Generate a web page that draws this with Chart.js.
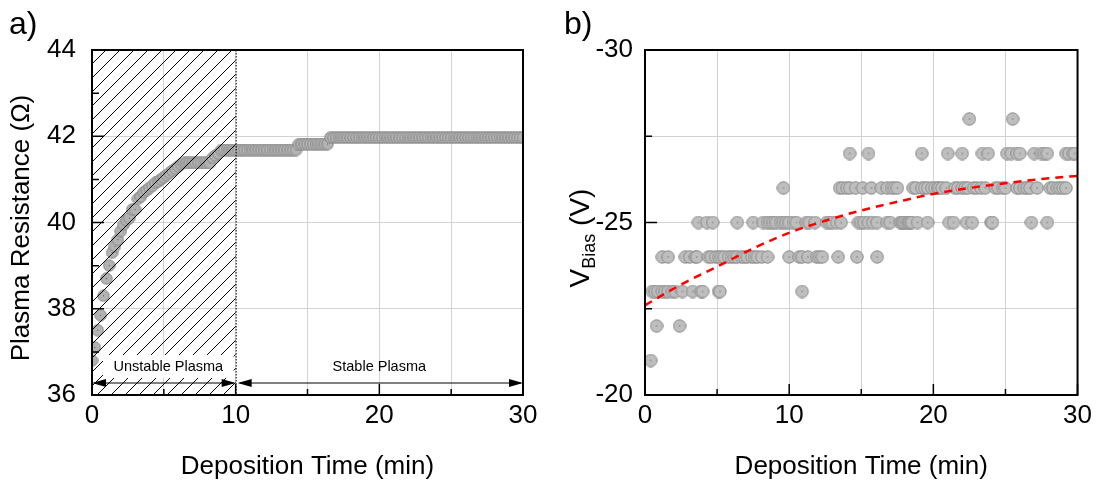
<!DOCTYPE html>
<html>
<head>
<meta charset="utf-8">
<script src="https://cdn.jsdelivr.net/npm/chart.js@4.4.1/dist/chart.umd.min.js"></script>
<style>
    html, body { margin: 0; padding: 0; background: #fff; }
    #wrap { position: relative; width: 1097px; height: 481px; }
    canvas { position: absolute; top: 0; }
    #chart-a { left: 0; }
    #chart-b { left: 548px; }
</style>
</head>
<body>
<div id="wrap">
    <canvas id="chart-a" width="548" height="481"></canvas>
    <canvas id="chart-b" width="549" height="481"></canvas>
</div>
<script>
// a) plasma resistance, one reading every 0.2 min
const resTime = [
    0, 0.2, 0.4, 0.6, 0.8, 1, 1.2, 1.4, 1.6, 1.8,
    2, 2.2, 2.4, 2.6, 2.8, 3, 3.2, 3.4, 3.6, 3.8,
    4, 4.2, 4.4, 4.6, 4.8, 5, 5.2, 5.4, 5.6, 5.8,
    6, 6.2, 6.4, 6.6, 6.8, 7, 7.2, 7.4, 7.6, 7.8,
    8, 8.2, 8.4, 8.6, 8.8, 9, 9.2, 9.4, 9.6, 9.8,
    10, 10.2, 10.4, 10.6, 10.8, 11, 11.2, 11.4, 11.6, 11.8,
    12, 12.2, 12.4, 12.6, 12.8, 13, 13.2, 13.4, 13.6, 13.8,
    14, 14.2, 14.4, 14.6, 14.8, 15, 15.2, 15.4, 15.6, 15.8,
    16, 16.2, 16.4, 16.6, 16.8, 17, 17.2, 17.4, 17.6, 17.8,
    18, 18.2, 18.4, 18.6, 18.8, 19, 19.2, 19.4, 19.6, 19.8,
    20, 20.2, 20.4, 20.6, 20.8, 21, 21.2, 21.4, 21.6, 21.8,
    22, 22.2, 22.4, 22.6, 22.8, 23, 23.2, 23.4, 23.6, 23.8,
    24, 24.2, 24.4, 24.6, 24.8, 25, 25.2, 25.4, 25.6, 25.8,
    26, 26.2, 26.4, 26.6, 26.8, 27, 27.2, 27.4, 27.6, 27.8,
    28, 28.2, 28.4, 28.6, 28.8, 29, 29.2, 29.4, 29.6, 29.8,
    30
];
const resValue = [
    36.8, 37.1, 37.5, 37.85, 38.3, 38.7, 39.0, 39.3, 39.45, 39.6,
    39.8, 39.95, 40.05, 40.1, 40.3, 40.3, 40.55, 40.6, 40.7, 40.75,
    40.8, 40.85, 40.92, 40.95, 41.0, 41.05, 41.1, 41.15, 41.2, 41.25,
    41.3, 41.35, 41.38, 41.38, 41.38, 41.38, 41.38, 41.38, 41.38, 41.38,
    41.38, 41.38, 41.5, 41.55, 41.6, 41.68, 41.68, 41.68, 41.68, 41.68,
    41.68, 41.68, 41.68, 41.68, 41.68, 41.68, 41.68, 41.68, 41.68, 41.68,
    41.68, 41.68, 41.68, 41.68, 41.68, 41.68, 41.68, 41.68, 41.68, 41.68,
    41.68, 41.68, 41.82, 41.82, 41.82, 41.82, 41.82, 41.82, 41.82, 41.82,
    41.82, 41.82, 41.82, 41.97, 41.97, 41.97, 41.97, 41.97, 41.97, 41.97,
    41.97, 41.97, 41.97, 41.97, 41.97, 41.97, 41.97, 41.97, 41.97, 41.97,
    41.97, 41.97, 41.97, 41.97, 41.97, 41.97, 41.97, 41.97, 41.97, 41.97,
    41.97, 41.97, 41.97, 41.97, 41.97, 41.97, 41.97, 41.97, 41.97, 41.97,
    41.97, 41.97, 41.97, 41.97, 41.97, 41.97, 41.97, 41.97, 41.97, 41.97,
    41.97, 41.97, 41.97, 41.97, 41.97, 41.97, 41.97, 41.97, 41.97, 41.97,
    41.97, 41.97, 41.97, 41.97, 41.97, 41.97, 41.97, 41.97, 41.97, 41.97,
    41.97
];
const unstableEnd = 10;   // min, end of hatched region

// b) bias voltage, readings grouped by level
const biasLevels = [-21, -22, -23, -24, -25, -26, -27, -28];
const biasTimes = [
    [0.4],
    [0.8, 2.4],
    [0.5, 0.7, 0.9, 1.2, 1.4, 1.6, 1.9, 2.1, 2.6, 3.3, 3.9, 4.0, 5.1, 5.2, 10.9],
    [1.2, 1.6, 2.8, 3.1, 3.5, 3.6, 4.4, 4.6, 4.9, 5.1, 5.3, 5.5, 5.8, 6.0, 6.2, 6.4, 6.7,
     6.9, 7.1, 7.4, 7.6, 7.8, 8.1, 8.5, 10.0, 10.7, 10.9, 11.3, 11.9, 12.1, 12.3, 13.4, 14.7, 16.1],
    [3.7, 4.3, 4.7, 6.4, 7.5, 8.2, 8.5, 8.7, 8.9, 9.1, 9.4, 9.6, 9.8, 10.0, 10.3, 10.5, 11.2,
     11.4, 11.8, 12.6, 12.8, 13.0, 13.3, 13.6, 14.8, 15.0, 15.2, 15.5, 15.8, 16.1, 16.8, 17.0,
     17.7, 17.8, 17.9, 18.0, 18.2, 18.3, 18.4, 18.5, 18.9, 19.6, 21.1, 21.4, 22.3, 22.7, 24.0,
     24.1, 26.8, 27.9],
    [9.6, 13.5, 13.7, 14.0, 14.2, 14.6, 15.1, 15.7, 16.4, 16.8, 17.1, 17.3, 17.5, 18.6, 18.8,
     19.2, 19.4, 19.6, 19.9, 20.1, 20.3, 20.4, 20.6, 20.9, 21.5, 21.7, 22.0, 22.2, 22.4, 22.8,
     23.0, 23.3, 23.6, 24.3, 24.5, 24.8, 25.0, 25.8, 26.0, 26.3, 26.5, 26.7, 27.2, 28.1, 28.3,
     28.6, 28.8, 29.0, 29.2],
    [14.2, 15.5, 19.2, 21.0, 22.0, 23.4, 23.8, 25.1, 25.4, 25.8, 26.0, 27.0, 27.5, 27.7, 27.9,
     29.2, 29.4, 29.7, 29.8],
    [22.5, 25.5]
];
// fitted trend (red dashed)
const fitTime = [0, 2.5, 5, 7.5, 10, 12.5, 15, 17.5, 20, 22.5, 25, 27.5, 30];
const fitVolt = [-22.6, -23.2, -23.72, -24.25, -24.7, -25.05, -25.35, -25.6, -25.83, -26.0, -26.14, -26.26, -26.35];

const xTitle = 'Deposition Time (min)';
const yTitleA = 'Plasma Resistance (Ω)';

const FONT = '"Liberation Sans", Arial, sans-serif';
Chart.defaults.font.family = FONT;
Chart.defaults.color = '#000';
Chart.defaults.animation = false;


function makeDot(size, fill, stroke) {
    const c = document.createElement('canvas');
    c.width = c.height = size;
    const g = c.getContext('2d');
    g.beginPath();
    g.arc(size / 2, size / 2, size / 2 - 0.8, 0, Math.PI * 2);
    g.fillStyle = fill; g.fill();
    g.lineWidth = 1; g.strokeStyle = stroke; g.stroke();
    g.fillStyle = '#555';
    g.fillRect(size / 2 - 0.5, size / 2 - 0.5, 1, 1);
    return c;
}

function isStep(v, step) {
    const r = Math.abs(v / step - Math.round(v / step));
    return r < 1e-6;
}

// black box round the plot with inward ticks
const framePlugin = {
    id: 'frame',
    afterDraw(chart, args, opts) {
        const { ctx, chartArea: a, scales: { x, y } } = chart;
        ctx.save();
        ctx.strokeStyle = '#000';
        ctx.lineWidth = 1.5;
        ctx.beginPath();
        for (const t of x.ticks) {
            const px = x.getPixelForValue(t.value);
            const len = isStep(t.value, opts.xMajor) ? 11 : 6;
            ctx.moveTo(px, a.bottom); ctx.lineTo(px, a.bottom - len);
        }
        for (const t of y.ticks) {
            const py = y.getPixelForValue(t.value);
            const len = isStep(t.value, opts.yMajor) ? 12 : 7;
            ctx.moveTo(a.left, py); ctx.lineTo(a.left + len, py);
        }
        ctx.stroke();
        ctx.lineWidth = 2;
        ctx.strokeRect(a.left, a.top, a.right - a.left, a.bottom - a.top);
        ctx.restore();
    }
};

function arrow(ctx, x0, x1, y) {
    const L = 14, W = 4;
    ctx.beginPath();
    ctx.moveTo(x0 + 2, y); ctx.lineTo(x1 - 2, y);
    ctx.stroke();
    ctx.beginPath();
    ctx.moveTo(x0, y); ctx.lineTo(x0 + L, y - W); ctx.lineTo(x0 + L, y + W); ctx.closePath();
    ctx.moveTo(x1, y); ctx.lineTo(x1 - L, y - W); ctx.lineTo(x1 - L, y + W); ctx.closePath();
    ctx.fill();
}

// hatched "unstable" region, dotted divider and region labels
const regionPlugin = {
    id: 'region',
    afterDatasetsDraw(chart) {
        const { ctx, chartArea: a, scales: { x } } = chart;
        const x0 = x.getPixelForValue(0), x1 = x.getPixelForValue(unstableEnd);
        const h = a.bottom - a.top;
        ctx.save();
        ctx.beginPath();
        ctx.rect(x0, a.top, x1 - x0, h);
        ctx.clip();
        ctx.strokeStyle = '#000';
        ctx.lineWidth = 1;
        ctx.beginPath();
        for (let px = x0 - h; px < x1 + h; px += 14) {
            ctx.moveTo(px, a.bottom); ctx.lineTo(px + h, a.top);
        }
        ctx.stroke();
        ctx.restore();

        ctx.save();
        ctx.strokeStyle = '#000';
        ctx.lineWidth = 1;
        ctx.setLineDash([1.5, 1.5]);
        ctx.beginPath();
        ctx.moveTo(x1 + 0.5, a.top); ctx.lineTo(x1 + 0.5, a.bottom);
        ctx.stroke();
        ctx.setLineDash([]);

        // white label box
        ctx.fillStyle = '#fff';
        ctx.fillRect(x0 + 11, a.bottom - 40, x1 - x0 - 13, 23);
        ctx.fillStyle = '#000';
        ctx.font = '14.5px ' + FONT;
        ctx.textAlign = 'center';
        ctx.textBaseline = 'middle';
        ctx.fillText('Unstable Plasma', (x0 + 11 + x1 - 2) / 2, a.bottom - 28);
        ctx.fillText('Stable Plasma', x.getPixelForValue(20), a.bottom - 28);

        arrow(ctx, x0, x1, a.bottom - 12);
        arrow(ctx, x1 + 2, x.getPixelForValue(30), a.bottom - 12);
        ctx.restore();
    }
};

const textA = {
    id: 'textA',
    afterDraw(chart) {
        const { ctx, chartArea: a } = chart;
        ctx.save();
        ctx.fillStyle = '#000';
        ctx.textBaseline = 'alphabetic';
        ctx.font = '32px ' + FONT;
        ctx.textAlign = 'left';
        ctx.fillText('a)', 9, 34);
        ctx.font = '26px ' + FONT;
        ctx.textAlign = 'center';
        ctx.fillText(xTitle, (a.left + a.right) / 2, 474);
        ctx.translate(20, 228);
        ctx.rotate(-Math.PI / 2);
        ctx.fillText(yTitleA, 0, 9);
        ctx.restore();
    }
};

const textB = {
    id: 'textB',
    afterDraw(chart) {
        const { ctx, chartArea: a } = chart;
        ctx.save();
        ctx.fillStyle = '#000';
        ctx.textBaseline = 'alphabetic';
        ctx.font = '32px ' + FONT;
        ctx.textAlign = 'left';
        ctx.fillText('b)', 16, 34);
        ctx.font = '26px ' + FONT;
        ctx.textAlign = 'center';
        ctx.fillText(xTitle, (a.left + a.right) / 2, 474);
        // V with "Bias" subscript, rotated
        ctx.translate(31, 238);
        ctx.rotate(-Math.PI / 2);
        ctx.textAlign = 'left';
        const big = '28px ' + FONT, small = '18px ' + FONT;
        ctx.font = big; const wV = ctx.measureText('V').width, wU = ctx.measureText(' (V)').width;
        ctx.font = small; const wB = ctx.measureText('Bias').width;
        let px = -(wV + wB + wU) / 2;
        ctx.font = big; ctx.fillText('V', px, 10); px += wV;
        ctx.font = small; ctx.fillText('Bias', px, 16); px += wB;
        ctx.font = big; ctx.fillText(' (V)', px, 10);
        ctx.restore();
    }
};

function axisX(stepLabel) {
    return {
        type: 'linear', min: 0, max: 30,
        afterFit: s => { s.height = 86; },
        grid: { color: '#d2d2d2', lineWidth: 1, drawTicks: false },
        border: { display: false },
        ticks: {
            stepSize: 5, autoSkip: false, maxRotation: 0, padding: 5,
            font: { size: 26 },
            callback: v => isStep(v, stepLabel) ? String(v) : ''
        }
    };
}

const resPoints = resTime.map((t, i) => ({ x: t, y: resValue[i] }));

const chartA = new Chart(document.getElementById('chart-a'), {
    type: 'scatter',
    data: {
        datasets: [{
            data: resPoints,
            pointStyle: makeDot(13, '#b2b2b2', '#858585'),
            pointRadius: 6
        }]
    },
    options: {
        responsive: false,
        layout: { padding: { left: 0, right: 25, top: 50, bottom: 0 } },
        plugins: {
            legend: { display: false }, tooltip: { enabled: false },
            frame: { xMajor: 10, yMajor: 2 }
        },
        scales: {
            x: axisX(10),
            y: {
                type: 'linear', min: 36, max: 44,
                afterFit: s => { s.width = 92; },
                grid: {
                    drawTicks: false, lineWidth: 1,
                    color: c => isStep(c.tick.value, 2) ? '#d2d2d2' : 'rgba(0,0,0,0)'
                },
                border: { display: false },
                ticks: {
                    stepSize: 1, autoSkip: false, padding: 16,
                    font: { size: 26 },
                    callback: v => isStep(v, 2) ? String(v) : ''
                }
            }
        }
    },
    plugins: [regionPlugin, framePlugin, textA]
});

const biasPoints = [];
biasLevels.forEach((lv, i) => {
    for (const t of biasTimes[i]) biasPoints.push({ x: t, y: lv });
});
const fitPoints = fitTime.map((t, i) => ({ x: t, y: fitVolt[i] }));

const chartB = new Chart(document.getElementById('chart-b'), {
    type: 'scatter',
    data: {
        datasets: [{
            data: fitPoints,
            showLine: true,
            borderColor: '#ff0000',
            borderWidth: 2.5,
            borderDash: [8, 6],
            pointRadius: 0,
            cubicInterpolationMode: 'monotone',
            order: 0
        }, {
            data: biasPoints,
            pointStyle: makeDot(14, '#bebebe', '#8a8a8a'),
            pointRadius: 6.5,
            order: 1
        }]
    },
    options: {
        responsive: false,
        layout: { padding: { left: 0, right: 19, top: 50, bottom: 0 } },
        plugins: {
            legend: { display: false }, tooltip: { enabled: false },
            frame: { xMajor: 10, yMajor: 5 }
        },
        scales: {
            x: axisX(10),
            y: {
                type: 'linear', min: -30, max: -20, reverse: true,
                afterFit: s => { s.width = 97; },
                grid: { color: '#d2d2d2', lineWidth: 1, drawTicks: false },
                border: { display: false },
                ticks: {
                    stepSize: 2.5, autoSkip: false, padding: 12,
                    font: { size: 26 },
                    callback: v => isStep(v, 5) ? String(v) : ''
                }
            }
        }
    },
    plugins: [framePlugin, textB]
});
</script>
</body>
</html>
